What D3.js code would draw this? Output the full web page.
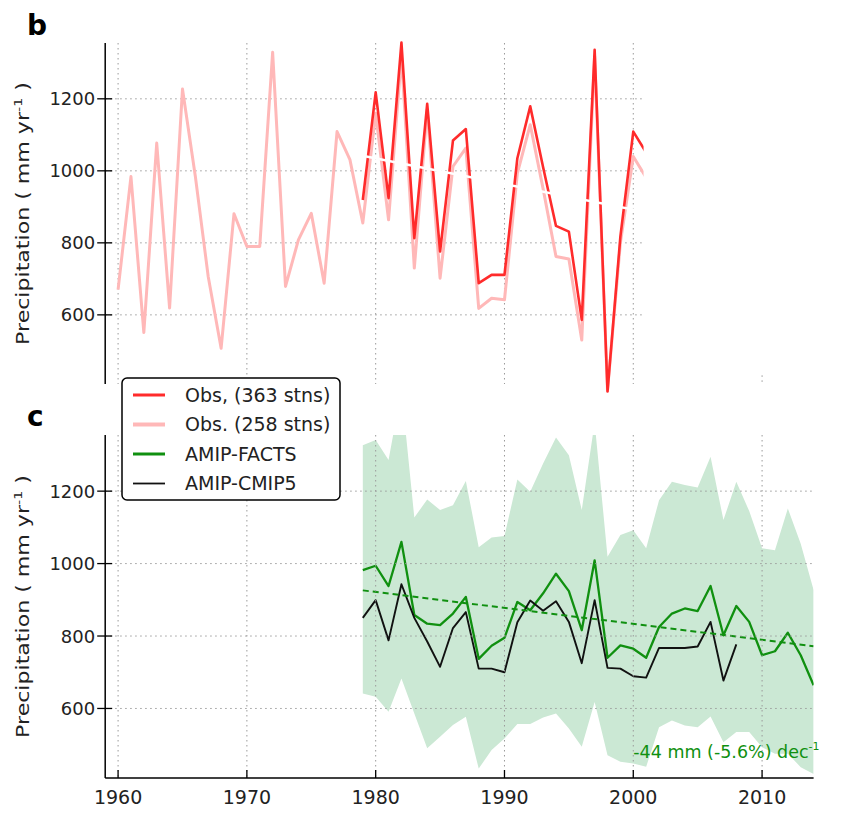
<!DOCTYPE html>
<html>
<head>
<meta charset="utf-8">
<script src="https://cdn.jsdelivr.net/npm/d3@7"></script>
<style>
body { margin: 0; background: #fff; }
text { font-family: "DejaVu Sans", sans-serif; fill: #222; }
</style>
</head>
<body>
<svg id="chart" width="845" height="813"></svg>
<script>
// observed station means (panel b)
var obsStart258 = 1960;
var obs258 = [670, 984, 551, 1077, 619, 1227, 984, 706, 507, 881, 790, 790, 1329, 679, 808, 882, 688, 1109, 1031, 855,
  1160, 864, 1320, 730, 1170, 702, 1012, 1063, 618, 646, 642, 993, 1128, 950, 762, 755, 530, 1318, 390, 800, 1040, 981];
var obsStart363 = 1979;
var obs363 = [919, 1218, 924, 1356, 813, 1186, 776, 1084, 1116, 688, 711, 711, 1035, 1179, 1010, 847, 831, 586, 1336, 387,
  818, 1109, 1051];
var obsTrendYears = [1978, 2001];
var obsTrend = [1049, 885];

// model runs (panel c)
var modelStart = 1979;
var facts = [982, 994, 938, 1060, 858, 834, 830, 862, 908, 737, 773, 795, 894, 871, 918, 972, 924, 816, 1009, 740,
  774, 765, 740, 825, 862, 876, 869, 938, 802, 883, 839, 747, 758, 809, 747, 664];
var cmip5 = [850, 899, 788, 943, 850, 785, 715, 822, 866, 710, 710, 700, 838, 898, 870, 896, 839, 725, 899, 712,
  710, 689, 685, 767, 767, 767, 771, 839, 677, 777];
var bandUpper = [1327, 1341, 1286, 1480, 1127, 1177, 1148, 1161, 1228, 1045, 1072, 1076, 1232, 1198, 1276, 1348, 1299, 1148, 1390, 1019,
  1079, 1092, 1042, 1175, 1226, 1217, 1210, 1295, 1120, 1226, 1145, 1042, 1037, 1152, 1055, 927];
var bandLower = [641, 632, 591, 683, 586, 490, 522, 554, 577, 434, 485, 517, 557, 557, 575, 586, 545, 494, 618, 471,
  453, 448, 439, 548, 567, 553, 548, 578, 507, 535, 535, 493, 475, 475, 438, 419];
var factsTrendYears = [1979, 2014];
var factsTrend = [926, 772];

var xTicks = [1960, 1970, 1980, 1990, 2000, 2010];
var yTicks = [600, 800, 1000, 1200];
var legendLabels = ["Obs, (363 stns)", "Obs. (258 stns)", "AMIP-FACTS", "AMIP-CMIP5"];
var legendColors = ["#ff2b2b", "#ffb8b8", "#109010", "#111"];
var legendWidths = [3, 4, 3, 1.8];

var red = "#ff2b2b", pink = "#ffb8b8", green = "#109010";

var svg = d3.select("#chart");

var x = d3.scaleLinear().domain([1959, 2014]).range([105.2, 813.6]);
var yB = d3.scaleLinear().domain([408, 1355]).range([384, 43]);
var yC = d3.scaleLinear().domain([408, 1355]).range([778, 435]);
var topRight = x(2000.8);

function series(start, vals) {
  return vals.map(function(v, i) { return {year: start + i, v: v}; });
}

var defs = svg.append("defs");
defs.append("clipPath").attr("id", "clipB").append("rect")
  .attr("x", x(1959)).attr("y", 0).attr("width", topRight - x(1959)).attr("height", 400);
defs.append("clipPath").attr("id", "clipC").append("rect")
  .attr("x", x(1959)).attr("y", yC(1355)).attr("width", x(2014) - x(1959)).attr("height", yC(408) - yC(1355));

function grid(g, y, xmax, vlines) {
  g.selectAll(".hg").data(yTicks).enter().append("line")
    .attr("x1", x(1959)).attr("x2", xmax)
    .attr("y1", function(d) { return y(d); }).attr("y2", function(d) { return y(d); })
    .attr("stroke", "#9a9a9a").attr("stroke-width", 1).attr("stroke-dasharray", "1.5,3.5");
  g.selectAll(".vg").data(vlines).enter().append("line")
    .attr("x1", function(d) { return x(d); }).attr("x2", function(d) { return x(d); })
    .attr("y1", y.range()[1]).attr("y2", y.range()[0])
    .attr("stroke", "#9a9a9a").attr("stroke-width", 1).attr("stroke-dasharray", "1.5,3.5");
}

function yAxis(g, y) {
  var x0 = x(1959);
  g.append("line").attr("x1", x0).attr("x2", x0).attr("y1", y.range()[1]).attr("y2", y.range()[0])
    .attr("stroke", "#000").attr("stroke-width", 1.5);
  var t = g.selectAll(".yt").data(yTicks).enter().append("g")
    .attr("transform", function(d) { return "translate(0," + y(d) + ")"; });
  t.append("line").attr("x1", x0 - 8).attr("x2", x0 + 7).attr("stroke", "#000").attr("stroke-width", 1.3);
  t.append("text").attr("x", x0 - 10).attr("text-anchor", "end").attr("dy", "0.36em")
    .style("font-size", "18px").text(function(d) { return d; });
}

function yLabel(g, y) {
  var cy = (y.range()[0] + y.range()[1]) / 2;
  // the original label is drawn long and narrow, so stretch it along its run
  var t = g.append("text").attr("transform", "translate(29," + cy + ") rotate(-90) scale(1.3,1)")
    .attr("text-anchor", "middle").style("font-size", "17px");
  t.append("tspan").text("Precipitation ( mm yr");
  t.append("tspan").attr("dy", -7).style("font-size", "11px").text("-1");
  t.append("tspan").attr("dy", 7).text(" )");
}

// ---------- panel b ----------
var gB = svg.append("g");
grid(gB, yB, topRight, [1960, 1970, 1980, 1990, 2000]);
// small fragment of the 2010 gridline below the clipped region
gB.append("line").attr("x1", x(2010)).attr("x2", x(2010)).attr("y1", yB(432)).attr("y2", yB(408))
  .attr("stroke", "#9a9a9a").attr("stroke-dasharray", "1.5,3.5");

var lineB = d3.line().x(function(d) { return x(d.year); }).y(function(d) { return yB(d.v); });
var plotB = gB.append("g").attr("clip-path", "url(#clipB)");
plotB.append("path").datum(series(obsStart258, obs258)).attr("d", lineB)
  .attr("fill", "none").attr("stroke", pink).attr("stroke-width", 3).attr("stroke-linejoin", "round");
plotB.append("path").datum(series(obsStart363, obs363)).attr("d", lineB)
  .attr("fill", "none").attr("stroke", red).attr("stroke-width", 2.6).attr("stroke-linejoin", "round");
plotB.append("path").datum(obsTrendYears.map(function(yr, i) { return {year: yr, v: obsTrend[i]}; })).attr("d", lineB)
  .attr("fill", "none").attr("stroke", "#fff").attr("stroke-width", 2.5);
yAxis(gB, yB);
yLabel(gB, yB);
svg.append("text").attr("x", 27).attr("y", 35).style("font-size", "28px").style("font-weight", "bold")
  .style("fill", "#000").text("b");

// ---------- panel c ----------
var gC = svg.append("g");
var lineC = d3.line().x(function(d) { return x(d.year); }).y(function(d) { return yC(d.v); });
var bandData = bandUpper.map(function(u, i) { return {year: modelStart + i, hi: u, lo: bandLower[i]}; });
var plotC = gC.append("g").attr("clip-path", "url(#clipC)");
plotC.append("path").datum(bandData)
  .attr("d", d3.area().x(function(d) { return x(d.year); }).y0(function(d) { return yC(d.lo); }).y1(function(d) { return yC(d.hi); }))
  .attr("fill", "#cbe8d4").attr("stroke", "none");
grid(gC, yC, x(2014), xTicks);
plotC.append("path").datum(series(modelStart, facts)).attr("d", lineC)
  .attr("fill", "none").attr("stroke", green).attr("stroke-width", 2.3).attr("stroke-linejoin", "round");
plotC.append("path").datum(series(modelStart, cmip5)).attr("d", lineC)
  .attr("fill", "none").attr("stroke", "#111").attr("stroke-width", 1.9).attr("stroke-linejoin", "round");
plotC.append("path").datum(factsTrendYears.map(function(yr, i) { return {year: yr, v: factsTrend[i]}; })).attr("d", lineC)
  .attr("fill", "none").attr("stroke", green).attr("stroke-width", 2).attr("stroke-dasharray", "6,4");
yAxis(gC, yC);
yLabel(gC, yC);

// bottom x axis
gC.append("line").attr("x1", x(1959)).attr("x2", x(2014)).attr("y1", yC(408)).attr("y2", yC(408))
  .attr("stroke", "#000").attr("stroke-width", 1.5);
var xt = gC.selectAll(".xt").data(xTicks).enter().append("g")
  .attr("transform", function(d) { return "translate(" + x(d) + "," + yC(408) + ")"; });
xt.append("line").attr("y1", 0).attr("y2", -8).attr("stroke", "#000").attr("stroke-width", 1.3);
xt.append("text").attr("y", 26).attr("text-anchor", "middle").style("font-size", "19px")
  .text(function(d) { return d; });

// trend annotation
var ann = gC.append("text").attr("x", x(2000)).attr("y", 758).style("font-size", "17.5px").style("fill", green);
ann.append("tspan").text("-44 mm (-5.6%) dec");
ann.append("tspan").attr("dy", -8).style("font-size", "11px").style("fill", green).text("-1");

svg.append("text").attr("x", 27).attr("y", 426).style("font-size", "28px").style("font-weight", "bold")
  .style("fill", "#000").text("c");

// ---------- legend ----------
var lg = svg.append("g").attr("transform", "translate(122,378)");
lg.append("rect").attr("width", 218).attr("height", 122).attr("rx", 5)
  .attr("fill", "#fff").attr("stroke", "#000").attr("stroke-width", 1.5);
var rows = lg.selectAll(".lr").data(legendLabels).enter().append("g")
  .attr("transform", function(d, i) { return "translate(0," + (17 + i * 29.5) + ")"; });
rows.append("line").attr("x1", 11).attr("x2", 43)
  .attr("stroke", function(d, i) { return legendColors[i]; })
  .attr("stroke-width", function(d, i) { return legendWidths[i]; });
rows.append("text").attr("x", 63).attr("dy", "0.36em").style("font-size", "19px")
  .text(function(d) { return d; });
</script>
</body>
</html>
